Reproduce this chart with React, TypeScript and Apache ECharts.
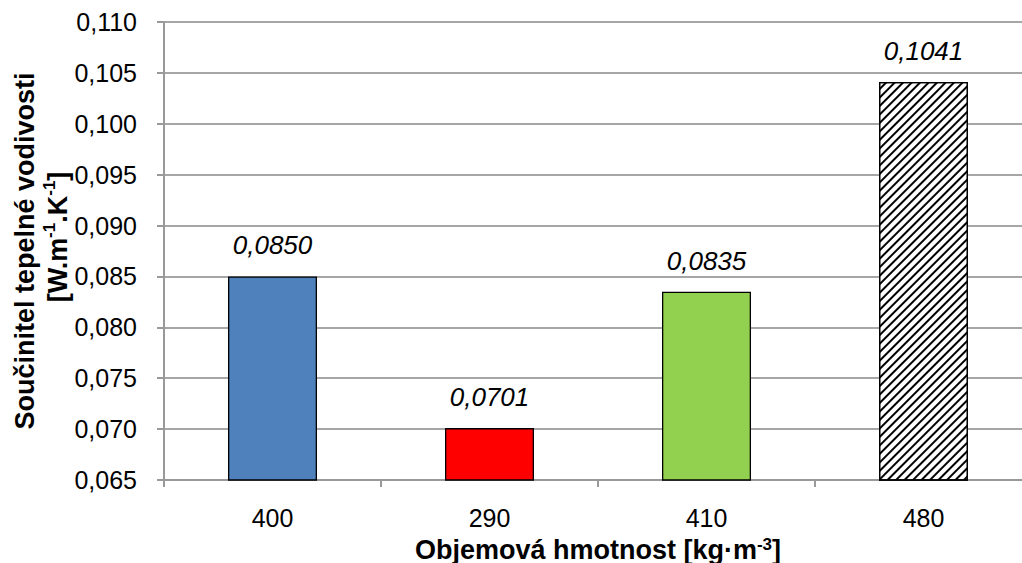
import React, { useEffect, useRef } from "react";
import * as echarts from "echarts";

const categories = ["400", "290", "410", "480"];
const values = [0.085, 0.0701, 0.0835, 0.1041];
const barColors = ["#4F81BD", "#FF0000", "#92D050", "#FFFFFF"];
const yMin = 0.065;
const yMax = 0.11;
const yStep = 0.005;

const FONT = "'Liberation Sans', Arial, sans-serif";

export default function App() {
  const ref = useRef<HTMLDivElement>(null);
  useEffect(() => {
    document.body.style.margin = "0";
    const chart = echarts.init(ref.current!, null, { renderer: "svg" });
    const data = values.map((v, i) => {
      const item: any = {
        value: v,
        itemStyle: { color: barColors[i], borderColor: "#000", borderWidth: 1.3 },
      };
      if (i === 3) {
        item.itemStyle.decal = {
          symbol: "rect",
          color: "#000",
          backgroundColor: "#fff",
          dashArrayX: [1, 0],
          dashArrayY: [1.8, 3.2],
          rotation: -Math.PI / 4,
          symbolSize: 1,
        };
      }
      return item;
    });
    const bold = { fontFamily: FONT, fontSize: 27, fontWeight: "bold", color: "#000" };
    chart.setOption({
      animation: false,
      aria: { enabled: false, decal: { show: false } },
      grid: { left: 164, top: 22, width: 868, height: 458, containLabel: false, outerBoundsMode: "none" },
      xAxis: {
        type: "category",
        data: categories,
        name: "Objemová hmotnost [kg·m{sup|-3}]",
        nameLocation: "middle",
        nameGap: 56,
        nameTextStyle: {
          ...bold,
          rich: {
            sup: { ...bold, fontSize: 17, verticalAlign: "top", padding: [0, 0, 10, 0] },
          },
        },
        axisLine: { lineStyle: { color: "#999", width: 2 } },
        axisTick: { show: true, length: 7, lineStyle: { color: "#999", width: 2 } },
        axisLabel: { fontFamily: FONT, fontSize: 25, color: "#000", margin: 25 },
      },
      yAxis: {
        type: "value",
        min: yMin,
        max: yMax,
        interval: yStep,
        name: "Součinitel tepelné vodivosti\n{l|[W.m}{sup|-1}{n|.K}{sup|-1}{n|]}",
        nameLocation: "middle",
        nameGap: 90,
        nameMoveOverlap: false,
        nameRotate: 90,
        nameTextStyle: {
          ...bold,
          lineHeight: 33,
          rich: {
            l: { ...bold, lineHeight: 33, padding: [0, 0, 0, 28] },
            n: { ...bold, lineHeight: 33 },
            sup: { ...bold, fontSize: 17, lineHeight: 33, verticalAlign: "top", padding: [0, 0, 12, 0] },
          },
        },
        axisLine: { show: true, lineStyle: { color: "#999", width: 2 } },
        axisTick: { show: true, length: 7, lineStyle: { color: "#999", width: 2 } },
        axisLabel: {
          fontFamily: FONT,
          fontSize: 25,
          color: "#000",
          margin: 27,
          formatter: (v: number) => v.toFixed(3).replace(".", ","),
        },
        splitLine: { show: true, lineStyle: { color: "#A6A6A6", width: 2 } },
      },
      series: [
        {
          type: "bar",
          data,
          barWidth: 89,
          label: {
            show: true,
            position: "top",
            distance: 18,
            fontFamily: FONT,
            fontSize: 26,
            fontStyle: "italic",
            color: "#000",
            formatter: (p: any) => p.value.toFixed(4).replace(".", ","),
          },
        },
      ],
    });
    return () => chart.dispose();
  }, []);
  return <div ref={ref} style={{ width: 1022, height: 563, position: "absolute", left: 0, top: 0 }} />;
}
